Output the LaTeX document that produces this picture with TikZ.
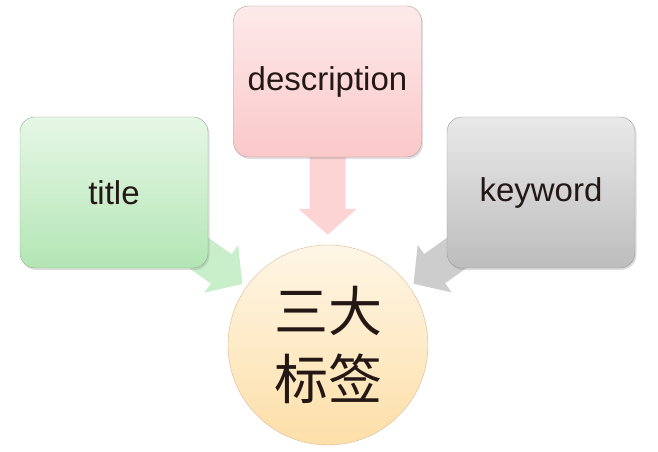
\documentclass[tikz,border=0pt]{standalone}
\usepackage{fontspec}
\setmainfont{Liberation Sans}
\newfontfamily\cjk{Noto Sans CJK SC}
\usetikzlibrary{arrows.meta,shadows,backgrounds}
\definecolor{ink}{HTML}{231815}
\definecolor{greentop}{HTML}{E6F7E6}
\definecolor{greenbot}{HTML}{B3E6B4}
\definecolor{pinktop}{HTML}{FDEAEA}
\definecolor{pinkbot}{HTML}{FBC8C9}
\definecolor{greytop}{HTML}{E9E9E9}
\definecolor{greybot}{HTML}{BDBDBD}
\definecolor{suntop}{HTML}{FEF6E6}
\definecolor{sunbot}{HTML}{FDDFA8}
\definecolor{greenarr}{HTML}{C8EFC9}
\definecolor{pinkarr}{HTML}{FCD4D4}
\definecolor{greyarr}{HTML}{CDCDCD}
\begin{document}
\begin{tikzpicture}[x=1pt,y=-1pt]
\tikzstyle{tag}= [rectangle,rounded corners=15pt,minimum width=188pt,minimum height=151pt,
  draw=black!40,thin,text=ink,font=\fontsize{33}{40}\selectfont,
  drop shadow={shadow xshift=1.5pt,shadow yshift=-2pt,opacity=.25}]
\tikzstyle{fat}= [line width=36pt,-{Triangle[width=57pt,length=26pt]}]

\useasboundingbox (0,0) rectangle (658,452);
\path
	(114,192.5) node[tag,top color=greentop,bottom color=greenbot,draw=green!30!black!45] (title) {title}
	(327.5,81.5) node[tag,top color=pinktop,bottom color=pinkbot,draw=red!30!black!40] (desc) {description}
	(541,192.5) node[tag,top color=greytop,bottom color=greybot] (kw) {keyword}
	(328,345) node[circle,minimum size=200pt,draw=brown!55!white,top color=suntop,bottom color=sunbot,
	  text=ink,align=center,font=\cjk\fontsize{54}{68}\selectfont] (tags) {三大\\标签}
;
\begin{pgfonlayer}{background}
\draw[fat,greenarr,shorten >=5pt] (title.center) -- (tags);
\draw[fat,pinkarr,shorten >=10pt] (desc.center) -- (tags);
\draw[fat,greyarr,shorten >=5pt] (kw.center) -- (tags);
\end{pgfonlayer}
\end{tikzpicture}
\end{document}
